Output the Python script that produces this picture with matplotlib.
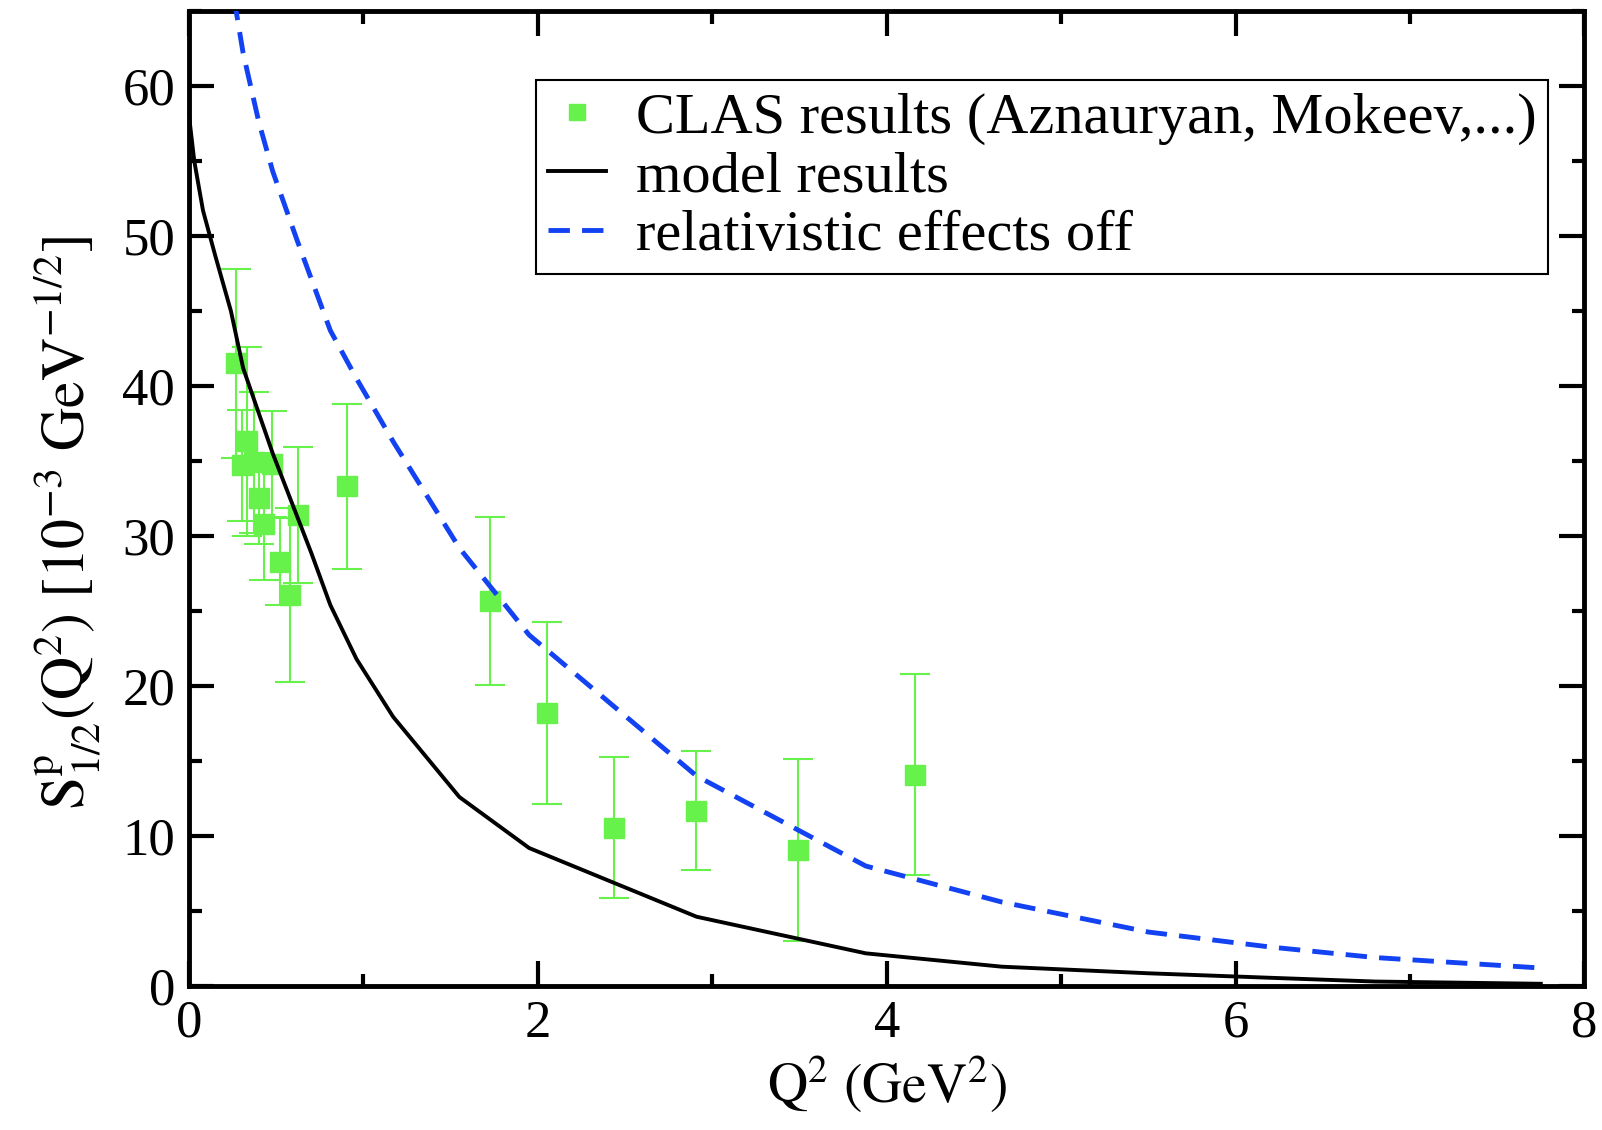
import matplotlib
matplotlib.use("Agg")
import matplotlib.pyplot as plt
from matplotlib.ticker import MultipleLocator

plt.rcParams['font.family'] = ['Liberation Serif', 'DejaVu Serif']
plt.rcParams['mathtext.fontset'] = 'stix'

# CLAS points (Q^2, S_1/2, error)
q2_clas = [0.268, 0.302, 0.331, 0.375, 0.403, 0.432, 0.474, 0.521, 0.579, 0.626,
           0.903, 1.725, 2.05, 2.437, 2.905, 3.49, 4.16]
s_clas = [41.5, 34.7, 36.3, 34.9, 32.5, 30.8, 34.8, 28.3, 26.1, 31.4,
          33.3, 25.7, 18.2, 10.55, 11.7, 9.07, 14.1]
err_clas = [6.3, 3.7, 6.3, 4.7, 3.0, 3.7, 3.5, 2.9, 5.8, 4.55,
            5.5, 5.6, 6.05, 4.7, 3.95, 6.05, 6.7]

# model results
q2_model = [0.0, 0.03, 0.08, 0.15, 0.24, 0.31, 0.48, 0.62, 0.70, 0.81, 0.96,
            1.17, 1.55, 1.95, 2.91, 3.88, 4.66, 5.50, 6.20, 6.80, 7.75]
s_model = [58.0, 55.0, 51.7, 48.7, 45.0, 41.2, 35.5, 31.3, 28.9, 25.4, 21.8,
           17.95, 12.6, 9.2, 4.62, 2.18, 1.29, 0.85, 0.55, 0.3, 0.15]

# relativistic effects off
q2_nonrel = [0.22, 0.27, 0.31, 0.40, 0.48, 0.62, 0.81, 0.96, 1.17, 1.55,
             1.95, 2.91, 3.88, 4.66, 5.50, 6.20, 6.80, 7.78]
s_nonrel = [68.5, 65.0, 62.2, 57.6, 54.3, 49.7, 43.7, 40.5, 36.3, 29.2,
            23.4, 14.0, 8.0, 5.6, 3.6, 2.6, 1.9, 1.18]

green = '#66f24a'
blue = '#1242f2'

fig = plt.figure(figsize=(16.02, 11.30), dpi=100)
ax = fig.add_axes([0.118, 0.1274, 0.871, 0.8629])

ax.errorbar(q2_clas, s_clas, yerr=err_clas, fmt='none', ecolor=green,
            elinewidth=1.5, capsize=11, capthick=1.5, zorder=2)
ax.plot(q2_clas, s_clas, 's', color=green, ms=14, mec=green,
        label='CLAS results (Aznauryan, Mokeev,...)', zorder=3)
ax.plot(q2_model, s_model, '-', color='black', lw=2.8, label='model results', zorder=4)
ax.plot(q2_nonrel, s_nonrel, '--', color=blue, lw=3.5, dashes=(4.4, 2.5),
        label='relativistic effects off', zorder=4)

ax.set_xlim(0, 8)
ax.set_ylim(0, 65)
ax.xaxis.set_major_locator(MultipleLocator(2))
ax.xaxis.set_minor_locator(MultipleLocator(1))
ax.yaxis.set_major_locator(MultipleLocator(10))
ax.yaxis.set_minor_locator(MultipleLocator(5))
ax.tick_params(which='both', direction='in', top=True, right=True, width=3,
               labelsize=38, pad=10)
ax.tick_params(which='major', length=18)
ax.tick_params(which='minor', length=9)
for sp in ax.spines.values():
    sp.set_linewidth(3.5)

ax.set_xlabel(r'$\mathrm{Q^{2}\ (GeV^{2})}$', fontsize=40, labelpad=4)
ax.set_ylabel(r'$\mathrm{S^{p}_{1/2}(Q^{2})\ [10^{-3}\ GeV^{-1/2}]}$', fontsize=43)
ax.yaxis.set_label_coords(-0.061, 0.475)

leg = ax.legend(loc='upper left', bbox_to_anchor=(0.249, 0.929), borderaxespad=0,
                fontsize=42, handlelength=1.0, handletextpad=0.5, labelspacing=0.1,
                borderpad=0.2, markerscale=0.85, fancybox=False, framealpha=1,
                edgecolor='black')
leg.get_frame().set_linewidth(1.5)

fig.savefig("out.png", dpi=100)
